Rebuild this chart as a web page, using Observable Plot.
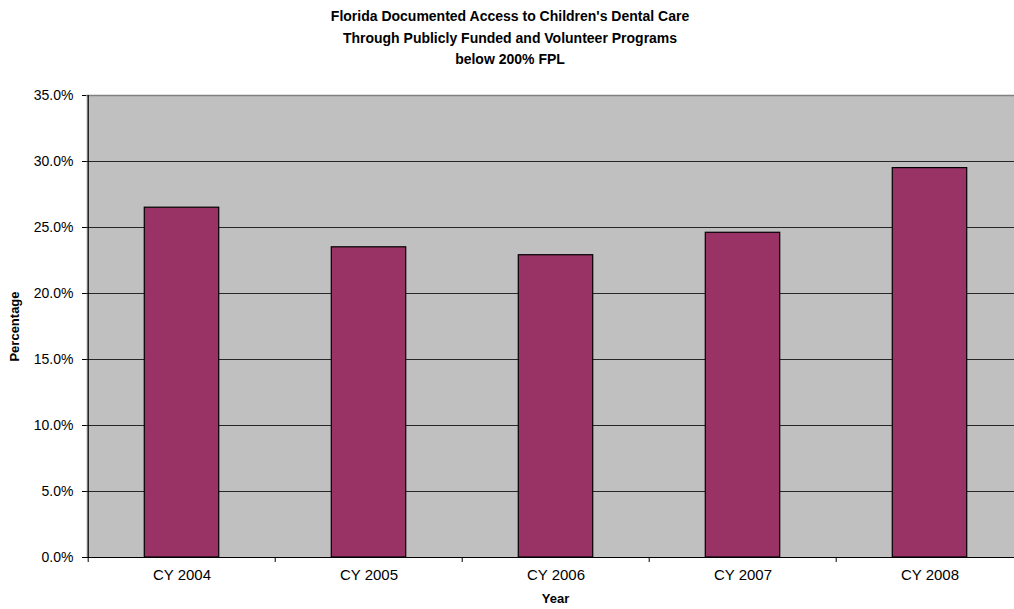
<!DOCTYPE html>
<html>
<head>
<meta charset="utf-8">
<script src="https://cdn.jsdelivr.net/npm/d3@7"></script>
<script src="https://cdn.jsdelivr.net/npm/@observablehq/plot@0.6"></script>
<style>
  html, body { margin: 0; padding: 0; background: #fff; overflow: hidden; width: 1014px; height: 609px; }
  #title { position: absolute; left: 0; top: 0; width: 1020px; height: 80px; text-align: center;
    font-family: "Liberation Sans", Arial, sans-serif; font-weight: bold; font-size: 14px;
    line-height: 21.5px; padding-top: 6px; box-sizing: border-box; color: #000; }
  #chart { position: absolute; left: 0; top: 80px; }
  #chart svg { max-width: none !important; }
</style>
</head>
<body>
<div id="title">Florida Documented Access to Children's Dental Care<br>Through Publicly Funded and Volunteer Programs<br>below 200% FPL</div>
<div id="chart"></div>
<script>
const categories = ["CY 2004", "CY 2005", "CY 2006", "CY 2007", "CY 2008"];
const values = [26.5, 23.5, 22.9, 24.6, 29.5];
const yTicks = [0, 5, 10, 15, 20, 25, 30, 35];
const xTitle = "Year";
const yTitle = "Percentage";

const data = categories.map((c, i) => ({category: c, value: values[i]}));

const W = 1030, H = 529;
const mL = 86, mR = 6, mT = 15, mB = 52;
const xs = Plot.scale({x: {type: "band", domain: categories, range: [mL, W - mR], padding: 0}});
const step = xs.step;
const barInset = step * 0.3;

const chart = Plot.plot({
  width: W,
  height: H,
  marginLeft: mL,
  marginRight: mR,
  marginTop: mT,
  marginBottom: mB,
  style: {fontFamily: "'Liberation Sans', Arial, sans-serif", fontSize: "14px", color: "#000", background: "transparent"},
  x: {type: "band", domain: categories, padding: 0, label: null},
  y: {domain: [0, 35], label: null},
  marks: [
    Plot.frame({fill: "#c0c0c0", stroke: null}),
    Plot.ruleY(yTicks.filter(d => d > 0 && d < 35), {stroke: "#000", strokeOpacity: 0.8, strokeWidth: 1}),
    Plot.ruleY([35], {stroke: "#808080", strokeWidth: 1.5}),
    Plot.barY(data, {x: "category", y: "value", fill: "#993366", stroke: "#000", strokeWidth: 1.2, insetLeft: barInset, insetRight: barInset}),
    Plot.ruleX([categories[0]], {dx: -step / 2, stroke: "#000", strokeWidth: 1.2}),
    Plot.ruleX(categories, {x: d => d, dx: -step / 2, y1: 0, y2: 0, insetBottom: -5, stroke: "#000"}),
    Plot.ruleY([0], {stroke: "#000", strokeWidth: 1.2}),
    Plot.axisY({ticks: yTicks, tickSize: 4, tickPadding: 9, tickFormat: d => d.toFixed(1) + "%", fontSize: 14, label: null, stroke: "#000"}),
    Plot.axisX({tickSize: 0, tickPadding: 12, fontSize: 15, label: null}),
    Plot.text([yTitle], {frameAnchor: "left", textAnchor: "middle", rotate: -90, dx: -72, fontWeight: "bold", fontSize: 13}),
    Plot.text([xTitle], {frameAnchor: "bottom", dy: 45, fontWeight: "bold", fontSize: 13})
  ]
});
document.getElementById("chart").appendChild(chart);
</script>
</body>
</html>
